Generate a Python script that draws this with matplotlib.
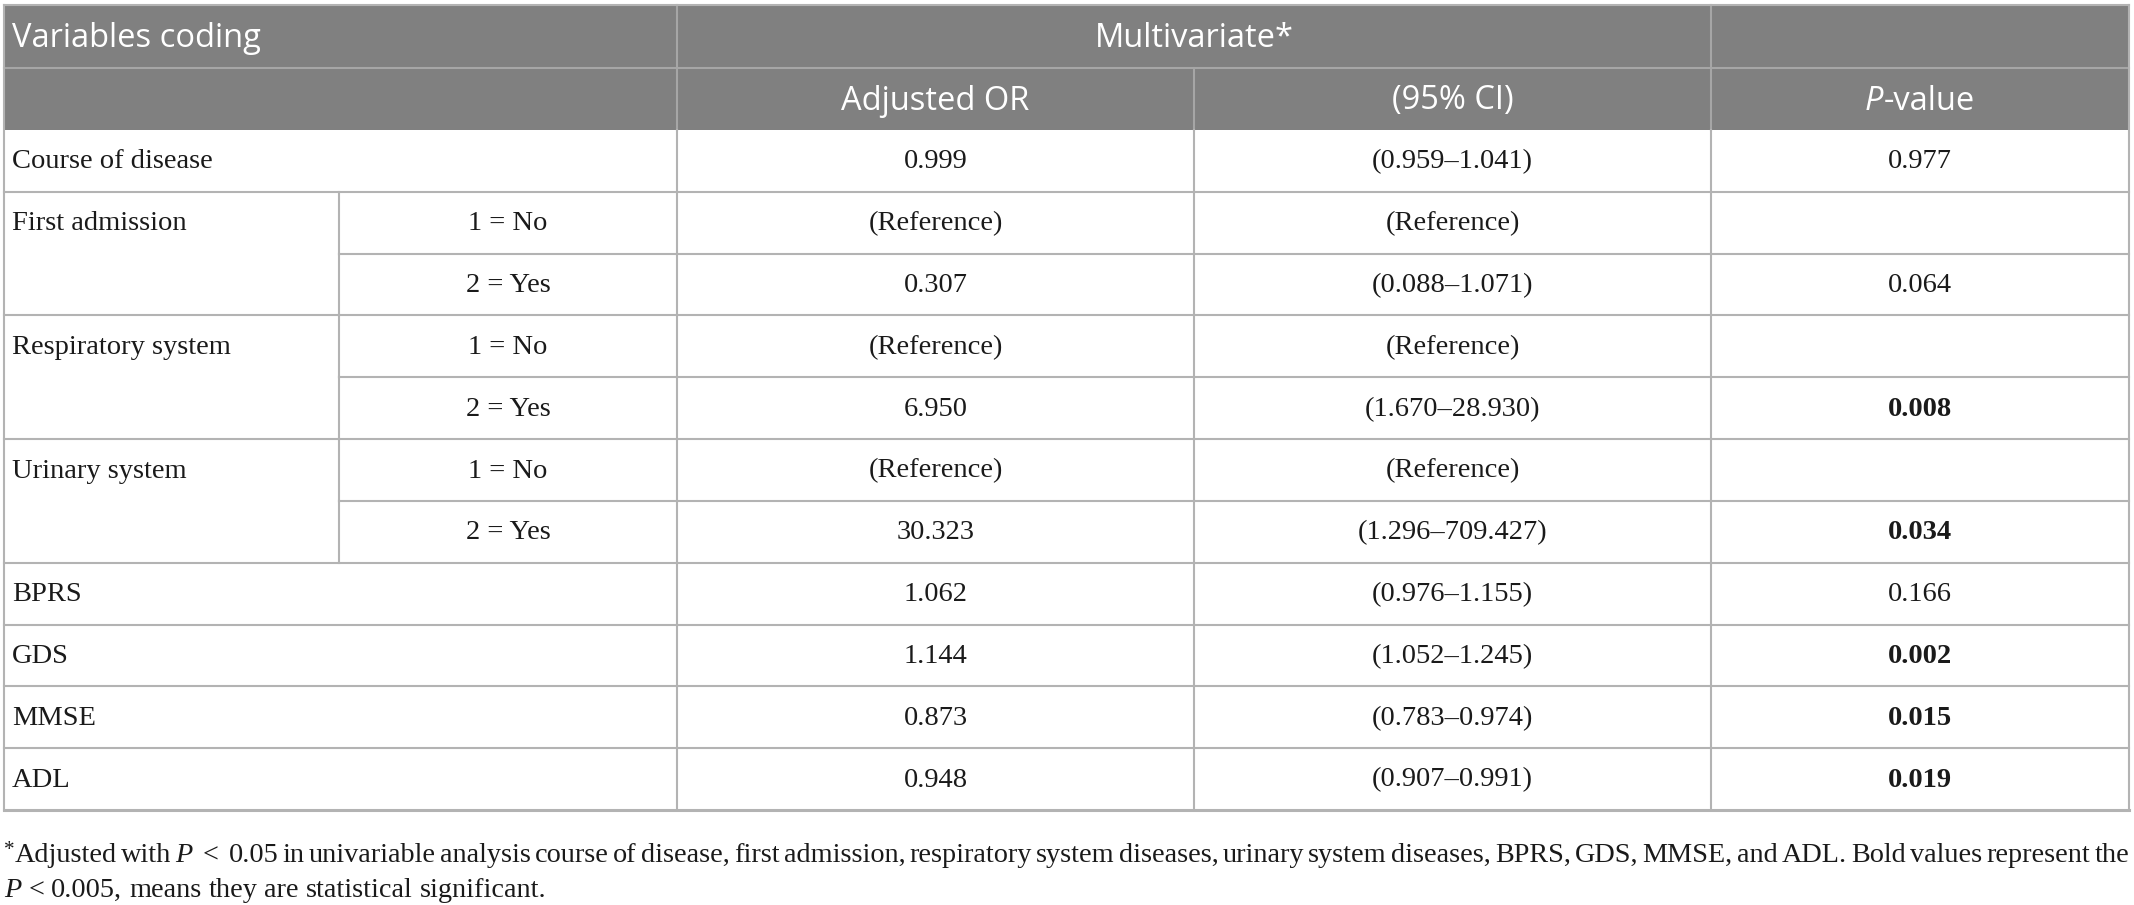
import numpy as np
import matplotlib.pyplot as plt
from matplotlib.patches import Rectangle

# table content

row_var = ['Course of disease', 'First admission', '', 'Respiratory system', '',
           'Urinary system', '', 'BPRS', 'GDS', 'MMSE', 'ADL']
row_code = ['', '1 = No', '2 = Yes', '1 = No', '2 = Yes', '1 = No', '2 = Yes',
            '', '', '', '']
adj_or = ['0.999', '(Reference)', '0.307', '(Reference)', '6.950', '(Reference)',
          '30.323', '1.062', '1.144', '0.873', '0.948']
ci_95 = ['(0.959\u20131.041)', '(Reference)', '(0.088\u20131.071)', '(Reference)',
         '(1.670\u201328.930)', '(Reference)', '(1.296\u2013709.427)',
         '(0.976\u20131.155)', '(1.052\u20131.245)', '(0.783\u20130.974)',
         '(0.907\u20130.991)']
p_val = ['0.977', '', '0.064', '', '0.008', '', '0.034', '0.166', '0.002', '0.015', '0.019']
p_bold = [False, False, False, False, True, False, True, False, True, True, True]

header_top = 'Variables coding'
header_span = 'Multivariate*'
header_cols = ['Adjusted OR', '(95% CI)']

note_1 = ('*Adjusted with P < 0.05 in univariable analysis course of disease, first admission, '
          'respiratory system diseases, urinary system diseases, BPRS, GDS, MMSE, and ADL. '
          'Bold values represent the')
note_2 = 'P < 0.005, means they are statistical significant.'


W, H = 2134, 905
fig = plt.figure(figsize=(W / 100, H / 100), dpi=100)
ax = fig.add_axes([0, 0, 1, 1])
ax.set_xlim(0, W)
ax.set_ylim(H, 0)
ax.axis('off')

col_x = [4, 339, 677, 1194, 1711, 2129]
hdr_y = [5, 68, 130]
row_y = np.linspace(130, 810, len(row_var) + 1)

grid_c = '#b3b3b3'
hdr_line_c = '#a6a6a6'
lw = 1.5
sans = 'Open Sans'
serif = 'Liberation Serif'
body_fs = 20.5
hdr_fs = 23.5
note_fs = 20.3

# header background
ax.add_patch(Rectangle((col_x[0], hdr_y[0]), col_x[-1] - col_x[0], hdr_y[2] - hdr_y[0],
                       facecolor='#808080', edgecolor='none', zorder=0))

# header lines
ax.plot([col_x[0], col_x[-1]], [hdr_y[1], hdr_y[1]], color=hdr_line_c, lw=lw)
for x in [col_x[2], col_x[4]]:
    ax.plot([x, x], [hdr_y[0], hdr_y[2]], color=hdr_line_c, lw=lw)
ax.plot([col_x[3], col_x[3]], [hdr_y[1], hdr_y[2]], color=hdr_line_c, lw=lw)

# body lines
for i in range(1, len(row_var)):
    x_start = col_x[1] if row_var[i] == '' else col_x[0]
    ax.plot([x_start, col_x[-1]], [row_y[i], row_y[i]], color=grid_c, lw=lw)
for x in col_x[2:5]:
    ax.plot([x, x], [row_y[0], row_y[-1]], color=grid_c, lw=lw)
for i in range(len(row_var)):
    if row_code[i]:
        ax.plot([col_x[1], col_x[1]], [row_y[i], row_y[i + 1]], color=grid_c, lw=lw)

# outer border
ax.plot([col_x[0], col_x[0]], [hdr_y[0], row_y[-1]], color=grid_c, lw=lw)
ax.plot([col_x[-1], col_x[-1]], [hdr_y[0], row_y[-1]], color=grid_c, lw=lw)
ax.plot([col_x[0], col_x[-1]], [hdr_y[0], hdr_y[0]], color=grid_c, lw=lw)
ax.plot([col_x[0], col_x[-1]], [row_y[-1], row_y[-1]], color=grid_c, lw=2.2)

renderer = fig.canvas.get_renderer()


def text_width(t):
    return t.get_window_extent(renderer).width


def place_runs(x, y, runs, ha='left', va='center'):
    # runs: list of (string, dict of text kwargs); drawn one after another
    texts = []
    for s, kw in runs:
        texts.append(ax.text(0, y + kw.pop('dy', 0), s, va=va, **kw))
    widths = [text_width(t) for t in texts]
    total = sum(widths)
    if ha == 'center':
        x = x - total / 2
    for t, w in zip(texts, widths):
        t.set_x(x)
        x += w


# header text
hy1 = (hdr_y[0] + hdr_y[1]) / 2 + 2
hy2 = (hdr_y[1] + hdr_y[2]) / 2 + 2
ax.text(col_x[0] + 8, hy1, header_top, color='white', fontsize=hdr_fs, family=sans,
        va='center', ha='left')
ax.text((col_x[2] + col_x[4]) / 2, hy1, header_span, color='white', fontsize=hdr_fs,
        family=sans, va='center', ha='center')
for j, lab in enumerate(header_cols):
    ax.text((col_x[2 + j] + col_x[3 + j]) / 2, hy2, lab, color='white', fontsize=hdr_fs,
            family=sans, va='center', ha='center')
place_runs((col_x[4] + col_x[5]) / 2, hy2,
           [('P', dict(color='white', fontsize=hdr_fs, family=sans, style='italic')),
            ('-value', dict(color='white', fontsize=hdr_fs, family=sans))],
           ha='center')

# body text
for i in range(len(row_var)):
    yc = (row_y[i] + row_y[i + 1]) / 2 + 1
    kw = dict(fontsize=body_fs, family=serif, color='#1a1a1a', va='center')
    if row_var[i]:
        ax.text(col_x[0] + 8, yc, row_var[i], ha='left', **kw)
    if row_code[i]:
        ax.text((col_x[1] + col_x[2]) / 2, yc, row_code[i], ha='center', **kw)
    ax.text((col_x[2] + col_x[3]) / 2, yc, adj_or[i], ha='center', **kw)
    ax.text((col_x[3] + col_x[4]) / 2, yc, ci_95[i], ha='center', **kw)
    if p_val[i]:
        ax.text((col_x[4] + col_x[5]) / 2, yc, p_val[i], ha='center',
                fontweight='bold' if p_bold[i] else 'normal', **kw)


# footnote, first line justified across the table width
def note_words(line, wide_lt=False):
    # each word: (list of runs, extra padding on both sides)
    words = []
    for w in line.split(' '):
        base = dict(fontsize=note_fs, family=serif, color='#1a1a1a')
        if w.startswith('*'):
            words.append(([('*', dict(base, fontsize=note_fs * 0.75, dy=-7)),
                           (w[1:], base)], 0))
        elif w == 'P':
            words.append(([(w, dict(base, style='italic'))], 0))
        elif w == '<' and wide_lt:
            words.append(([(w, base)], 6))
        else:
            words.append(([(w, base)], 0))
    return words


def place_line(x0, y, words, width=None):
    groups = []
    for runs, pad in words:
        texts = [ax.text(0, y + kw.pop('dy', 0), s, va='baseline', **kw) for s, kw in runs]
        groups.append((texts, [text_width(t) for t in texts], pad))
    natural_gap = note_fs * 100 / 72 * 0.25
    word_w = sum(sum(ws) + 2 * pad for _, ws, pad in groups)
    gap = natural_gap
    if width is not None and len(groups) > 1:
        gap = (width - word_w) / (len(groups) - 1)
    x = x0
    for texts, ws, pad in groups:
        x += pad
        for t, w in zip(texts, ws):
            t.set_x(x)
            x += w
        x += pad + gap


place_line(col_x[0], 862, note_words(note_1, wide_lt=True), width=col_x[-1] - col_x[0])
place_line(col_x[0], 897, note_words(note_2))

fig.savefig('out.png', dpi=100, facecolor='white')
